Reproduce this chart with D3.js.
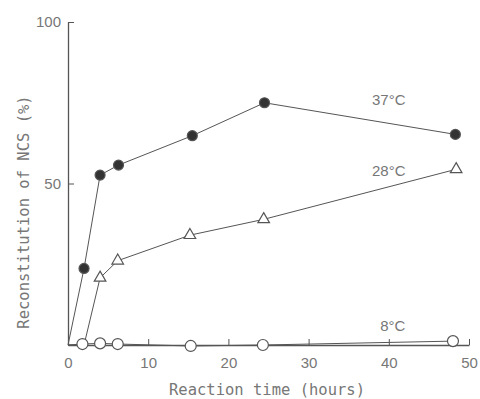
<!DOCTYPE html>
<html>
<head>
<meta charset="utf-8">
<script src="https://cdn.jsdelivr.net/npm/d3@7"></script>
<style>
  body { margin: 0; background: #fff; }
  text { fill: #777; }
</style>
</head>
<body>
<div id="chart"></div>
<script>
// reaction time (hours) and NCS reconstitution (%) per temperature
const hours37 = [0, 2, 4, 6.3, 15.5, 24.5, 48.3];
const ncs37 = [0, 23.7, 52.6, 55.7, 64.8, 75.0, 65.2];

const hours28 = [0, 2, 4, 6.2, 15.2, 24.4, 48.4];
const ncs28 = [0, 0, 20.8, 26.1, 34.0, 38.9, 54.4];

const hours8 = [0, 1.8, 4, 6.2, 15.3, 24.3, 48];
const ncs8 = [0, 0.3, 0.5, 0.3, -0.3, 0, 1.2];

const xTicks = [0, 10, 20, 30, 40, 50];
const yTicks = [50, 100];

const series = [
  { label: "37°C", hours: hours37, values: ncs37, marker: "filled", labelAt: [40, 75.5] },
  { label: "28°C", hours: hours28, values: ncs28, marker: "triangle", labelAt: [40, 53.5] },
  { label: "8°C", hours: hours8, values: ncs8, marker: "open", labelAt: [40.5, 5.5] }
];

const W = 480, H = 399;
const margin = { top: 22, right: 11, bottom: 54, left: 68 };
const width = W - margin.left - margin.right;
const height = H - margin.top - margin.bottom;

const svg = d3.select("#chart").append("svg")
  .attr("width", W)
  .attr("height", H);

const g = svg.append("g")
  .attr("transform", `translate(${margin.left},${margin.top})`);

const x = d3.scaleLinear().domain([0, 50]).range([0, width]);
const y = d3.scaleLinear().domain([0, 100]).range([height, 0]);

const ink = "#555";

// axes, ticks pointing inward
const xAxis = g.append("g")
  .attr("transform", `translate(0,${height})`)
  .call(d3.axisBottom(x).tickValues(xTicks).tickSizeInner(-6).tickSizeOuter(0).tickPadding(12));
xAxis.select(".domain").attr("stroke", ink).attr("stroke-width", 1.3);
xAxis.selectAll(".tick line").attr("stroke", ink);
xAxis.selectAll(".tick text")
  .style("font-family", "'Liberation Sans', sans-serif")
  .style("font-size", "15px")
  .attr("fill", "#777");

const yAxis = g.append("g")
  .call(d3.axisLeft(y).tickValues(yTicks).tickSizeInner(-6).tickSizeOuter(0).tickPadding(7));
yAxis.select(".domain").attr("stroke", ink).attr("stroke-width", 1.3);
yAxis.selectAll(".tick line").attr("stroke", ink);
yAxis.selectAll(".tick text")
  .style("font-family", "'Liberation Sans', sans-serif")
  .style("font-size", "15px")
  .attr("fill", "#777");

// lines
const line = d3.line()
  .x(d => x(d[0]))
  .y(d => y(d[1]));

series.forEach(s => {
  const pts = s.hours.map((h, i) => [h, s.values[i]]);
  g.append("path")
    .datum(pts)
    .attr("fill", "none")
    .attr("stroke", ink)
    .attr("stroke-width", 1)
    .attr("d", line);
});

// markers (the origin point has none)
series.forEach(s => {
  const pts = s.hours.map((h, i) => [h, s.values[i]]).slice(1)
    .filter(d => !(s.marker === "triangle" && d[1] === 0));
  if (s.marker === "triangle") {
    g.selectAll(null).data(pts).join("path")
      .attr("transform", d => `translate(${x(d[0])},${y(d[1])})`)
      .attr("d", d3.symbol(d3.symbolTriangle, 58)())
      .attr("fill", "#fff")
      .attr("stroke", ink)
      .attr("stroke-width", 1.2);
  } else {
    g.selectAll(null).data(pts).join("circle")
      .attr("cx", d => x(d[0]))
      .attr("cy", d => y(d[1]))
      .attr("r", s.marker === "filled" ? 5 : 5.5)
      .attr("fill", s.marker === "filled" ? "#333" : "#fff")
      .attr("stroke", ink)
      .attr("stroke-width", 1.2);
  }
});

// temperature labels
series.forEach(s => {
  g.append("text")
    .attr("x", x(s.labelAt[0]))
    .attr("y", y(s.labelAt[1]))
    .attr("text-anchor", "middle")
    .attr("dominant-baseline", "middle")
    .style("font-family", "'Liberation Sans', sans-serif")
    .style("font-size", "15px")
    .text(s.label);
});

// axis titles
svg.append("text")
  .attr("x", 267)
  .attr("y", 390)
  .attr("text-anchor", "middle")
  .attr("dominant-baseline", "middle")
  .style("font-family", "'DejaVu Sans Mono', monospace")
  .style("font-size", "15.5px")
  .text("Reaction time (hours)");

svg.append("text")
  .attr("transform", "translate(24,212) rotate(-90)")
  .attr("text-anchor", "middle")
  .attr("dominant-baseline", "middle")
  .style("font-family", "'DejaVu Sans Mono', monospace")
  .style("font-size", "15.5px")
  .text("Reconstitution of NCS (%)");
</script>
</body>
</html>
